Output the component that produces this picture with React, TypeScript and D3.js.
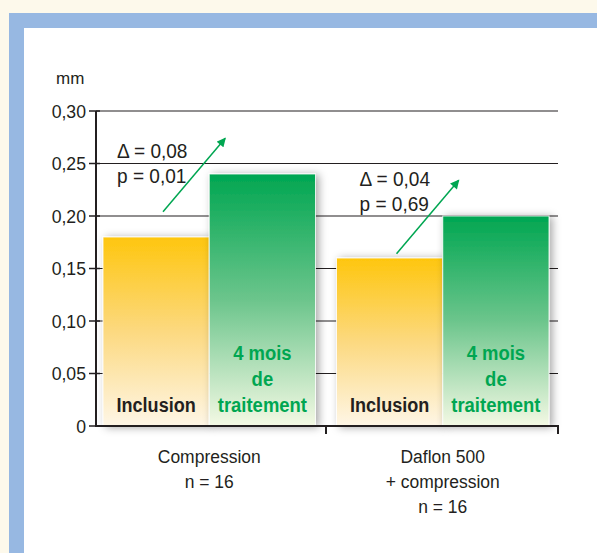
import React from "react";
import * as d3 from "d3";

const groups = ["Compression", "Daflon 500"];
const groupLabels = [["Compression", "n = 16"], ["Daflon 500", "+ compression", "n = 16"]];
const series = ["Inclusion", "4 mois de traitement"];
const inclusionValues = [0.18, 0.16];
const treatmentValues = [0.24, 0.2];
const deltaLabels = ["Δ = 0,08", "Δ = 0,04"];
const pLabels = ["p = 0,01", "p = 0,69"];
const annotationValues = [0.255, 0.229];
const yTicks = [0, 0.05, 0.1, 0.15, 0.2, 0.25, 0.3];
const yTickLabels = ["0", "0,05", "0,10", "0,15", "0,20", "0,25", "0,30"];

const W = 597;
const H = 553;
const FONT = "'Liberation Sans', Arial, sans-serif";
const GREEN = "#00a651";
const DARK = "#231f20";

function Cond({ x, y, size, weight, fill, anchor, sx, children }: any) {
  return (
    <text
      transform={`translate(${x},${y}) scale(${sx},1)`}
      fontSize={size}
      fontWeight={weight}
      fill={fill}
      textAnchor={anchor}
    >
      {children}
    </text>
  );
}

export default function App() {
  const y = d3.scaleLinear().domain([0, 0.3]).range([426, 111]);
  const x0 = d3
    .scaleBand<string>()
    .domain(groups)
    .range([96, 556])
    .paddingInner(0.09)
    .paddingOuter(0.03);
  const x1 = d3.scaleBand<string>().domain(series).range([0, x0.bandwidth()]).padding(0);
  const left = 96;
  const right = 558;

  const data = groups.map((g, i) => [inclusionValues[i], treatmentValues[i]]);

  return (
    <svg width={W} height={H} style={{ position: "absolute", left: 0, top: 0 }} fontFamily={FONT}>
      <defs>
        <linearGradient id="gy" x1="0" y1="0" x2="0" y2="1">
          <stop offset="0" stopColor="#fec60e" />
          <stop offset="0.5" stopColor="#fcd980" />
          <stop offset="1" stopColor="#fef6e6" />
        </linearGradient>
        <linearGradient id="gg" x1="0" y1="0" x2="0" y2="1">
          <stop offset="0" stopColor="#00a651" />
          <stop offset="0.5" stopColor="#6cc58c" />
          <stop offset="1" stopColor="#f4f9e4" />
        </linearGradient>
        <filter id="sh" x="-20%" y="-20%" width="140%" height="140%">
          <feDropShadow dx="3" dy="1" stdDeviation="4" floodColor="#000" floodOpacity="0.35" />
        </filter>
        <marker id="ah" viewBox="0 0 10 10" refX="9" refY="5" markerWidth="10" markerHeight="9" orient="auto" markerUnits="userSpaceOnUse">
          <path d="M0,0 L10,5 L0,10 z" fill={GREEN} />
        </marker>
      </defs>
      <rect x={0} y={0} width={W} height={H} fill="#fdf9eb" />
      <rect x={9} y={13} width={W - 9} height={H - 13} fill="#97b8e2" />
      <rect x={24} y={28} width={W - 24} height={H - 28} fill="#ffffff" />

      <text x={56} y={84} fontSize={17} fill={DARK}>mm</text>

      {/* grid lines */}
      {yTicks.slice(1).map((t) => (
        <line key={t} x1={left} x2={right} y1={y(t)} y2={y(t)} stroke={DARK} strokeWidth={1.2} />
      ))}

      {/* bars */}
      {groups.map((g, gi) => (
        <g key={g} transform={`translate(${x0(g)},0)`}>
          {series.map((s, si) => {
            const v = data[gi][si];
            return (
              <rect
                key={s}
                x={x1(s)!}
                y={y(v)}
                width={x1.bandwidth()}
                height={y(0) - y(v)}
                fill={si === 0 ? "url(#gy)" : "url(#gg)"}
                stroke="#ffffff"
                strokeOpacity={0.8}
                strokeWidth={1}
                filter="url(#sh)"
              />
            );
          })}
          <Cond
            x={x1(series[0])! + x1.bandwidth() / 2}
            y={412}
            anchor="middle"
            size={20.5}
            weight="bold"
            fill={DARK}
            sx={0.88}
          >
            Inclusion
          </Cond>
          {["4 mois", "de", "traitement"].map((l, li) => (
            <Cond
              key={l}
              x={x1(series[1])! + x1.bandwidth() / 2}
              y={360 + li * 26}
              anchor="middle"
              size={20.5}
              weight="bold"
              fill={GREEN}
              sx={0.9}
            >
              {l}
            </Cond>
          ))}
        </g>
      ))}

      {/* annotations */}
      {groups.map((g, gi) => {
        const bx = x0(g)!;
        const tipV = treatmentValues[gi] + 0.034;
        const startV = tipV - 0.07;
        const tx = bx + (gi === 0 ? 14 : 23);
        return (
          <g key={g + "a"}>
            <Cond x={tx} y={y(annotationValues[gi])} size={20.5} fill={DARK} sx={0.93}>
              {deltaLabels[gi]}
            </Cond>
            <Cond x={tx} y={y(annotationValues[gi]) + 25} size={20.5} fill={DARK} sx={0.93}>
              {pLabels[gi]}
            </Cond>
            <line
              x1={bx + 60}
              y1={y(startV)}
              x2={bx + x1(series[1])! + 16}
              y2={y(tipV)}
              stroke={GREEN}
              strokeWidth={1.5}
              markerEnd="url(#ah)"
            />
          </g>
        );
      })}

      {/* y axis */}
      <line x1={left} x2={left} y1={y(0.3)} y2={y(0) + 1} stroke={DARK} strokeWidth={2} />
      {yTicks.map((t, i) => (
        <g key={t}>
          <line x1={left - 7} x2={left + 4} y1={y(t)} y2={y(t)} stroke={DARK} strokeWidth={1.5} />
          <Cond x={86} y={y(t) + 6.5} anchor="end" size={19} fill={DARK} sx={0.93}>
            {yTickLabels[i]}
          </Cond>
        </g>
      ))}

      {/* x axis */}
      <line x1={left} x2={right + 1} y1={y(0)} y2={y(0)} stroke={DARK} strokeWidth={2} />
      {[x0(groups[1])! - (x0.step() - x0.bandwidth()) / 2, right].map((xv) => (
        <line key={xv} x1={xv} x2={xv} y1={y(0)} y2={y(0) + 8} stroke={DARK} strokeWidth={2} />
      ))}
      {groups.map((g, gi) => (
        <g key={g + "l"}>
          {groupLabels[gi].map((l, li) => (
            <Cond
              key={l}
              x={x0(g)! + x0.bandwidth() / 2}
              y={463 + li * 25}
              anchor="middle"
              size={19}
              fill={DARK}
              sx={0.92}
            >
              {l}
            </Cond>
          ))}
        </g>
      ))}
    </svg>
  );
}
